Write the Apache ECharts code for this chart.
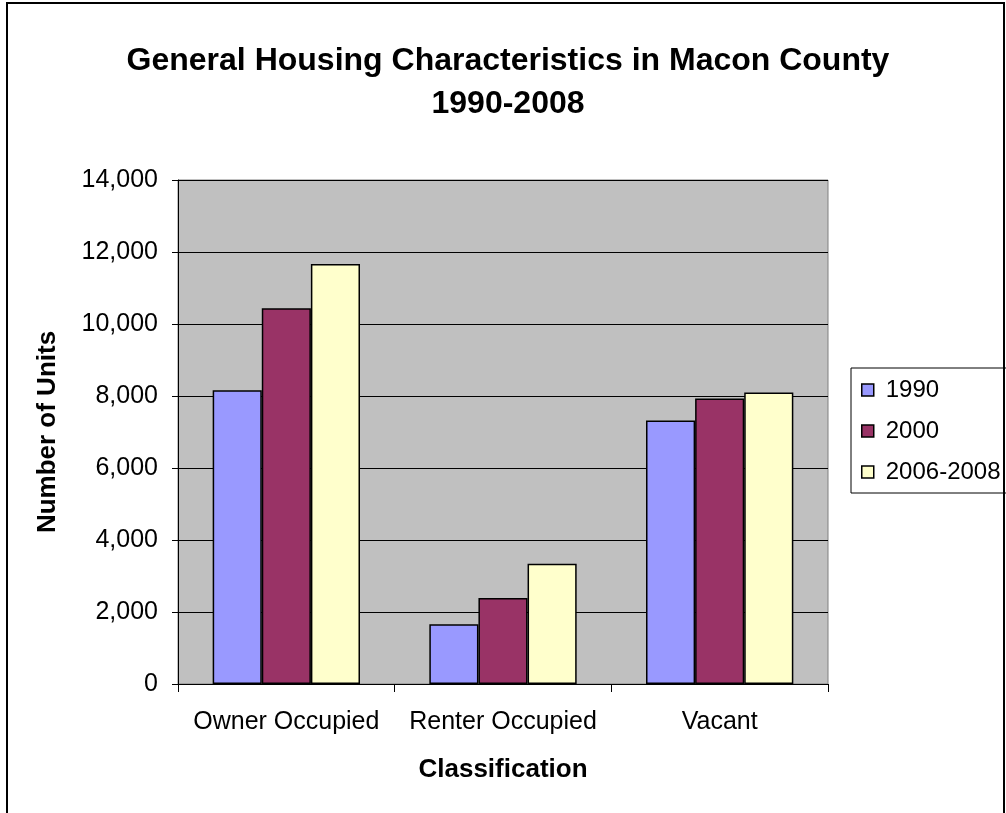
<!DOCTYPE html>
<html>
<head>
<meta charset="utf-8">
<script src="https://cdn.jsdelivr.net/npm/echarts@6/dist/echarts.min.js"></script>
<style>
  html, body { margin: 0; padding: 0; background: #ffffff; }
  #chart { width: 1006px; height: 813px; }
</style>
</head>
<body>
<div id="chart"></div>
<script>
// Housing units by classification and survey period
const categories = ['Owner Occupied', 'Renter Occupied', 'Vacant'];
const units1990 = [8160, 1660, 7320];
const units2000 = [10440, 2390, 7930];
const units2006_2008 = [11670, 3340, 8100];
const seriesNames = ['1990', '2000', '2006-2008'];
const yTicks = { min: 0, max: 14000, interval: 2000 };

const FONT = '"Liberation Sans", Arial, sans-serif';
const colors = ['#9999FF', '#993366', '#FFFFCC'];

const chart = echarts.init(document.getElementById('chart'), null, { renderer: 'canvas' });

function barSeries(name, data, color) {
  return {
    name: name,
    type: 'bar',
    data: data,
    barGap: '0%',
    barCategoryGap: '32%',
    itemStyle: { color: color, borderColor: '#000000', borderWidth: 1.5 },
    emphasis: { disabled: true }
  };
}

chart.setOption({
  animation: false,
  backgroundColor: '#ffffff',
  textStyle: { fontFamily: FONT },
  title: {
    text: 'General Housing Characteristics in Macon County\n1990-2008',
    left: 503,
    top: 35,
    textAlign: 'center',
    textStyle: { fontFamily: FONT, fontSize: 32, fontWeight: 'bold', color: '#000000', lineHeight: 43 }
  },
  legend: {
    orient: 'vertical',
    left: 851,
    top: 368,
    padding: [10, 12, 9, 10],
    itemGap: 17,
    itemWidth: 12,
    itemHeight: 12,
    icon: 'rect',
    backgroundColor: '#ffffff',
    borderColor: '#000000',
    borderWidth: 1,
    data: seriesNames,
    itemStyle: { borderColor: '#000000', borderWidth: 1.5 },
    textStyle: { fontFamily: FONT, fontSize: 24, color: '#000000', lineHeight: 24, padding: [0, 0, 0, 7] }
  },
  grid: {
    left: 178,
    right: 178,
    top: 180,
    bottom: 129,
    show: true,
    backgroundColor: '#C0C0C0',
    borderColor: '#808080',
    borderWidth: 1
  },
  xAxis: {
    type: 'category',
    data: categories,
    name: 'Classification',
    nameLocation: 'middle',
    nameGap: 73,
    nameTextStyle: { fontFamily: FONT, fontSize: 26, fontWeight: 'bold', color: '#000000' },
    axisLine: { lineStyle: { color: '#000000', width: 1 } },
    axisTick: { show: true, alignWithLabel: false, length: 8, lineStyle: { color: '#000000' } },
    axisLabel: { fontFamily: FONT, fontSize: 25, color: '#000000', margin: 26, interval: 0 },
    splitLine: { show: false }
  },
  yAxis: {
    type: 'value',
    min: yTicks.min,
    max: yTicks.max,
    interval: yTicks.interval,
    name: 'Number of Units',
    nameLocation: 'middle',
    nameGap: 117,
    nameTextStyle: { fontFamily: FONT, fontSize: 26, fontWeight: 'bold', color: '#000000' },
    axisLine: { show: true, lineStyle: { color: '#000000', width: 1 } },
    axisTick: { show: true, length: 6, lineStyle: { color: '#000000' } },
    axisLabel: {
      fontFamily: FONT, fontSize: 25, color: '#000000', margin: 20,
      formatter: function (v) { return v.toLocaleString('en-US'); }
    },
    splitLine: { show: true, lineStyle: { color: '#000000', width: 1 } }
  },
  series: [
    barSeries(seriesNames[0], units1990, colors[0]),
    barSeries(seriesNames[1], units2000, colors[1]),
    barSeries(seriesNames[2], units2006_2008, colors[2])
  ],
  graphic: [
    {
      type: 'rect',
      shape: { x: 7, y: 3, width: 997, height: 830 },
      style: { fill: null, stroke: '#000000', lineWidth: 2 },
      silent: true,
      z: 100
    }
  ]
});
</script>
</body>
</html>
